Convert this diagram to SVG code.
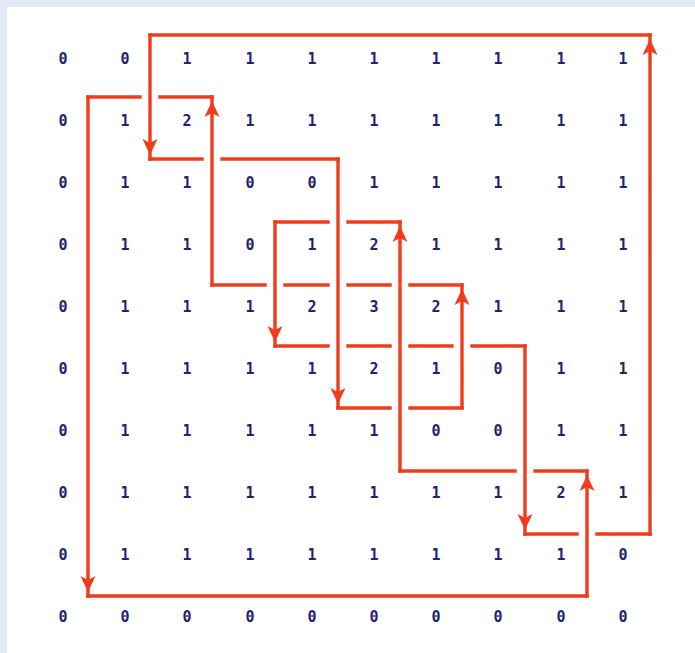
<svg xmlns="http://www.w3.org/2000/svg" width="695" height="653" viewBox="0 0 695 653">
<style>
.n{font-family:"DejaVu Sans Mono","Liberation Mono",monospace;font-size:15px;font-weight:bold;fill:#222270;text-anchor:middle;dominant-baseline:central}
.h{stroke:#f03c1c;stroke-width:3.4;fill:none;stroke-linecap:square}
.v{stroke:#f03c1c;stroke-width:3.4;fill:none;stroke-linecap:square;marker-end:url(#ah)}
</style>
<defs>
<marker id="ah" markerUnits="userSpaceOnUse" viewBox="0 -9 22 18" markerWidth="22" markerHeight="18" refX="20" refY="0" orient="auto">
<path d="M0,-7.5 L16,0 L0,7.5 L4,0 Z" fill="#f03c1c"/>
</marker>
</defs>
<rect x="0" y="0" width="695" height="653" fill="#e3e9f5"/>
<rect x="7" y="7" width="688" height="646" fill="#ffffff"/>
<g id="grid">
<g id="r0"><text class="n" x="63" y="59">0</text><text class="n" x="125" y="59">0</text><text class="n" x="187" y="59">1</text><text class="n" x="250" y="59">1</text><text class="n" x="312" y="59">1</text><text class="n" x="374" y="59">1</text><text class="n" x="436" y="59">1</text><text class="n" x="498" y="59">1</text><text class="n" x="561" y="59">1</text><text class="n" x="623" y="59">1</text></g>
<g id="r1"><text class="n" x="63" y="121">0</text><text class="n" x="125" y="121">1</text><text class="n" x="187" y="121">2</text><text class="n" x="250" y="121">1</text><text class="n" x="312" y="121">1</text><text class="n" x="374" y="121">1</text><text class="n" x="436" y="121">1</text><text class="n" x="498" y="121">1</text><text class="n" x="561" y="121">1</text><text class="n" x="623" y="121">1</text></g>
<g id="r2"><text class="n" x="63" y="183">0</text><text class="n" x="125" y="183">1</text><text class="n" x="187" y="183">1</text><text class="n" x="250" y="183">0</text><text class="n" x="312" y="183">0</text><text class="n" x="374" y="183">1</text><text class="n" x="436" y="183">1</text><text class="n" x="498" y="183">1</text><text class="n" x="561" y="183">1</text><text class="n" x="623" y="183">1</text></g>
<g id="r3"><text class="n" x="63" y="245">0</text><text class="n" x="125" y="245">1</text><text class="n" x="187" y="245">1</text><text class="n" x="250" y="245">0</text><text class="n" x="312" y="245">1</text><text class="n" x="374" y="245">2</text><text class="n" x="436" y="245">1</text><text class="n" x="498" y="245">1</text><text class="n" x="561" y="245">1</text><text class="n" x="623" y="245">1</text></g>
<g id="r4"><text class="n" x="63" y="307">0</text><text class="n" x="125" y="307">1</text><text class="n" x="187" y="307">1</text><text class="n" x="250" y="307">1</text><text class="n" x="312" y="307">2</text><text class="n" x="374" y="307">3</text><text class="n" x="436" y="307">2</text><text class="n" x="498" y="307">1</text><text class="n" x="561" y="307">1</text><text class="n" x="623" y="307">1</text></g>
<g id="r5"><text class="n" x="63" y="369">0</text><text class="n" x="125" y="369">1</text><text class="n" x="187" y="369">1</text><text class="n" x="250" y="369">1</text><text class="n" x="312" y="369">1</text><text class="n" x="374" y="369">2</text><text class="n" x="436" y="369">1</text><text class="n" x="498" y="369">0</text><text class="n" x="561" y="369">1</text><text class="n" x="623" y="369">1</text></g>
<g id="r6"><text class="n" x="63" y="431">0</text><text class="n" x="125" y="431">1</text><text class="n" x="187" y="431">1</text><text class="n" x="250" y="431">1</text><text class="n" x="312" y="431">1</text><text class="n" x="374" y="431">1</text><text class="n" x="436" y="431">0</text><text class="n" x="498" y="431">0</text><text class="n" x="561" y="431">1</text><text class="n" x="623" y="431">1</text></g>
<g id="r7"><text class="n" x="63" y="493">0</text><text class="n" x="125" y="493">1</text><text class="n" x="187" y="493">1</text><text class="n" x="250" y="493">1</text><text class="n" x="312" y="493">1</text><text class="n" x="374" y="493">1</text><text class="n" x="436" y="493">1</text><text class="n" x="498" y="493">1</text><text class="n" x="561" y="493">2</text><text class="n" x="623" y="493">1</text></g>
<g id="r8"><text class="n" x="63" y="555">0</text><text class="n" x="125" y="555">1</text><text class="n" x="187" y="555">1</text><text class="n" x="250" y="555">1</text><text class="n" x="312" y="555">1</text><text class="n" x="374" y="555">1</text><text class="n" x="436" y="555">1</text><text class="n" x="498" y="555">1</text><text class="n" x="561" y="555">1</text><text class="n" x="623" y="555">0</text></g>
<g id="r9"><text class="n" x="63" y="617">0</text><text class="n" x="125" y="617">0</text><text class="n" x="187" y="617">0</text><text class="n" x="250" y="617">0</text><text class="n" x="312" y="617">0</text><text class="n" x="374" y="617">0</text><text class="n" x="436" y="617">0</text><text class="n" x="498" y="617">0</text><text class="n" x="561" y="617">0</text><text class="n" x="623" y="617">0</text></g>
</g>
<g id="connectors">
<path class="h" d="M150,35 H650"/>
<path class="h" d="M150,159 H202 M222,159 H338"/>
<path class="h" d="M338,408 H390 M410,408 H462"/>
<path class="h" d="M212,285 H265 M285,285 H328 M348,285 H390 M410,285 H462"/>
<path class="h" d="M88,97 H140 M160,97 H212"/>
<path class="h" d="M88,596 H587"/>
<path class="h" d="M400,471 H515 M535,471 H587"/>
<path class="h" d="M275,222 H328 M348,222 H400"/>
<path class="h" d="M275,346 H328 M348,346 H390 M410,346 H452 M472,346 H525"/>
<path class="h" d="M525,534 H577 M597,534 H650"/>
<path class="v" d="M650,534 V35"/>
<path class="v" d="M150,35 V159"/>
<path class="v" d="M338,159 V408"/>
<path class="v" d="M462,408 V285"/>
<path class="v" d="M212,285 V97"/>
<path class="v" d="M88,97 V596"/>
<path class="v" d="M587,596 V471"/>
<path class="v" d="M400,471 V222"/>
<path class="v" d="M275,222 V346"/>
<path class="v" d="M525,346 V534"/>
</g>
</svg>
